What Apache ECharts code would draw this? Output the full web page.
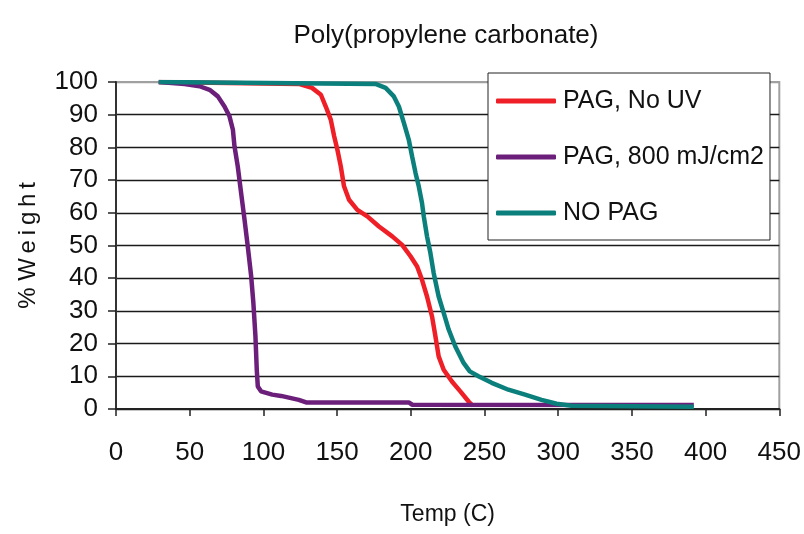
<!DOCTYPE html>
<html>
<head>
<meta charset="utf-8">
<script src="https://cdn.jsdelivr.net/npm/echarts@6/dist/echarts.min.js"></script>
<style>html,body{margin:0;padding:0;background:#fff;}#c{width:804px;height:534px;}</style>
</head>
<body>
<div id="c"></div>
<script>
var FONT = "'Liberation Sans Narrow','Arial Narrow','Liberation Sans',Arial,sans-serif";

var seriesNames = ['PAG, No UV', 'PAG, 800 mJ/cm2', 'NO PAG'];

var noUvTemp   = [29, 124, 133, 139, 142.3, 145.7, 148, 150.2, 152.5, 154.7, 158.1, 163.7, 170.5, 178.4, 187.4, 194.1, 199.8, 204.3, 207.6, 211, 214.4, 216.7, 218.9, 222.3, 227.9, 233.6, 239.2, 242];
var noUvWeight = [100, 99.4, 98.2, 96.1, 92.5, 88.5, 83.4, 79.3, 74.2, 68.1, 64, 60.9, 58.9, 55.8, 52.8, 50.2, 46.7, 43.6, 39.5, 34.4, 28.3, 22.2, 16.1, 12, 8.4, 5.4, 2.3, 1.0];

var uvTemp   = [29, 46.6, 56.7, 63.5, 69.1, 73.6, 77, 79.3, 80.4, 82.6, 84.9, 87.2, 89.4, 91.7, 93.2, 94.6, 95.5, 96.2, 98.4, 106, 112, 118, 124, 129, 198.6, 201, 392];
var uvWeight = [100, 99.4, 98.7, 97.6, 95.6, 92.5, 89.5, 85.4, 80.3, 74.2, 66, 57.9, 49.7, 40.6, 32.4, 22.2, 12, 6.9, 5.4, 4.4, 4.0, 3.4, 2.8, 2.0, 2.0, 1.3, 1.2];

var noPagTemp   = [29, 176, 182.9, 188.5, 191.9, 195.3, 198.6, 200.9, 203.2, 205.4, 207.6, 208.8, 211, 213.3, 215.5, 218.9, 222.3, 225.7, 230.2, 235.8, 240, 245.9, 254.9, 266.2, 277.5, 288.7, 298.9, 309, 392];
var noPagWeight = [100, 99.4, 98.2, 95.6, 92.5, 87.5, 82.4, 77.2, 72.2, 68.1, 63, 58.9, 52.8, 47.7, 41.6, 34.4, 29.4, 24.3, 19.1, 14.1, 11.5, 10, 8, 5.9, 4.4, 2.8, 1.6, 1.0, 0.7];

var colors = ['#ee1f26', '#6c1f7a', '#0b7f7b'];

function zip(a, b) { return a.map(function (v, i) { return [v, b[i]]; }); }

var splitColors = [];
for (var i = 0; i < 10; i++) splitColors.push('#1a1a1a');
splitColors.push('#a0a0a0');

var chart = echarts.init(document.getElementById('c'));
chart.setOption({
  animation: false,
  backgroundColor: '#fff',
  title: {
    text: 'Poly(propylene carbonate)',
    left: 441, top: 18, textAlign: 'center',
    textStyle: { fontFamily: FONT, fontSize: 26, fontWeight: 'normal', color: '#111' }
  },
  grid: { left: 116, right: 22, top: 82, bottom: 125, show: true, borderColor: '#a0a0a0', borderWidth: 2, containLabel: false },
  legend: {
    orient: 'vertical', left: 488, top: 73,
    backgroundColor: '#fff', borderColor: '#222', borderWidth: 1,
    padding: [13, 6, 12, 8],
    itemWidth: 60, itemHeight: 5, itemGap: 26, icon: 'roundRect',
    textStyle: { fontFamily: FONT, fontSize: 25, color: '#111', lineHeight: 30, padding: [0, 0, 0, 2] },
    data: seriesNames
  },
  xAxis: {
    type: 'value', min: 0, max: 450, interval: 50,
    name: 'Temp (C)', nameLocation: 'middle', nameGap: 94,
    nameTextStyle: { fontFamily: FONT, fontSize: 23, color: '#111' },
    axisLine: { show: true, lineStyle: { color: '#222', width: 2 } },
    axisTick: { show: true, length: 7, lineStyle: { color: '#222', width: 1.5 } },
    axisLabel: { fontFamily: FONT, fontSize: 26, color: '#111', margin: 31 },
    splitLine: { show: false }
  },
  yAxis: {
    type: 'value', min: 0, max: 100, interval: 10,
    name: '% W\u2009e\u2009i\u2009g\u2009h\u2009t', nameLocation: 'middle', nameGap: 76, nameRotate: 90,
    nameTextStyle: { fontFamily: FONT, fontSize: 24, color: '#111' },
    axisLine: { show: true, lineStyle: { color: '#333', width: 2 } },
    axisTick: { show: true, length: 8, lineStyle: { color: '#222', width: 1.5 } },
    axisLabel: { fontFamily: FONT, fontSize: 26, color: '#111', margin: 18 },
    splitLine: { show: true, lineStyle: { color: splitColors, width: 1.3 } }
  },
  series: [
    { name: seriesNames[0], type: 'line', data: zip(noUvTemp, noUvWeight), showSymbol: false, symbol: 'none', color: colors[0], lineStyle: { width: 4.5, color: colors[0] }, z: 3 },
    { name: seriesNames[1], type: 'line', data: zip(uvTemp, uvWeight), showSymbol: false, symbol: 'none', color: colors[1], lineStyle: { width: 4.5, color: colors[1] }, z: 4 },
    { name: seriesNames[2], type: 'line', data: zip(noPagTemp, noPagWeight), showSymbol: false, symbol: 'none', color: colors[2], lineStyle: { width: 4.5, color: colors[2] }, z: 5 }
  ]
});
</script>
</body>
</html>
